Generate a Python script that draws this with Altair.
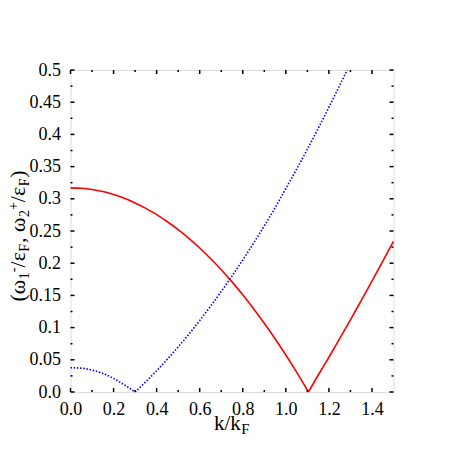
import altair as alt
import pandas as pd

# ---- data ----
red_left_k = [0.0, 0.05, 0.1, 0.15, 0.2, 0.25, 0.3, 0.35, 0.4, 0.45, 0.5, 0.55, 0.6, 0.65,
              0.7, 0.75, 0.8, 0.85, 0.9, 0.95, 1.0, 1.05, 1.105]
red_left_v = [0.317, 0.3163, 0.3144, 0.3112, 0.3066, 0.3008, 0.2936, 0.2852, 0.2755, 0.2644,
              0.2521, 0.2385, 0.2236, 0.2073, 0.1898, 0.1710, 0.1509, 0.1294, 0.1067, 0.0827,
              0.0574, 0.0308, 0.0]
red_right_k = [1.105, 1.15, 1.2, 1.25, 1.3, 1.35, 1.4, 1.45, 1.5]
red_right_v = [0.0, 0.026, 0.054, 0.083, 0.112, 0.142, 0.172, 0.203, 0.234]

blue_left_k = [0.0, 0.05, 0.1, 0.15, 0.2, 0.25, 0.3]
blue_left_v = [0.0377, 0.037, 0.034, 0.029, 0.021, 0.011, 0.0]
blue_right_k = [0.3, 0.35, 0.4, 0.45, 0.5, 0.55, 0.6, 0.65, 0.7, 0.75, 0.8, 0.85, 0.9, 0.95,
                1.0, 1.05, 1.1, 1.15, 1.2, 1.25, 1.285]
blue_right_v = [0.0, 0.016, 0.033, 0.051, 0.070, 0.090, 0.111, 0.133, 0.156, 0.180, 0.205,
                0.231, 0.258, 0.286, 0.316, 0.346, 0.377, 0.409, 0.442, 0.476, 0.5]

x_major = [0.0, 0.2, 0.4, 0.6, 0.8, 1.0, 1.2, 1.4]
x_minor = [0.1, 0.3, 0.5, 0.7, 0.9, 1.1, 1.3]
y_major = [0.0, 0.05, 0.1, 0.15, 0.2, 0.25, 0.3, 0.35, 0.4, 0.45, 0.5]
y_minor = [0.025, 0.075, 0.125, 0.175, 0.225, 0.275, 0.325, 0.375, 0.425, 0.475]

# ---- layout ----
W, H = 323, 322
FONT = "Liberation Serif"
xs = alt.Scale(domain=[0, 1.5], nice=False, zero=False)
ys = alt.Scale(domain=[0, 0.5], nice=False, zero=False)

x_axis = alt.Axis(values=x_major, format=".1f", title=None, ticks=False, tickSize=0,
                  domain=False, grid=False, labelFont=FONT, labelFontSize=18,
                  labelColor="black", labelPadding=8, labelFlush=False, labelOverlap=False)
y_axis = alt.Axis(values=y_major, title=None, ticks=False, tickSize=0, domain=False,
                  grid=False, labelFont=FONT, labelFontSize=18, labelColor="black",
                  labelPadding=10, labelFlush=False, labelOverlap=False,
                  labelExpr="datum.value == 0 ? '0.0' : format(datum.value, '~g')")


def X(field="k"):
    return alt.X(f"{field}:Q", scale=xs, axis=x_axis)


def Y(field="v"):
    return alt.Y(f"{field}:Q", scale=ys, axis=y_axis)


def seg_df(name, ks, vs):
    return pd.DataFrame({"k": ks, "v": vs, "seg": name})


red = pd.concat([seg_df("a", red_left_k, red_left_v), seg_df("b", red_right_k, red_right_v)])
blue = pd.concat([seg_df("a", blue_left_k, blue_left_v), seg_df("b", blue_right_k, blue_right_v)])

red_line = alt.Chart(red).mark_line(color="#ff0000", strokeWidth=1.6, interpolate="monotone").encode(
    x=X(), y=Y(), detail="seg:N")
blue_line = alt.Chart(blue).mark_line(color="#0000ff", strokeWidth=1.6, strokeDash=[1.5, 1.7],
                                      interpolate="monotone").encode(
    x=X(), y=Y(), detail="seg:N")


def xticks(vals, length):
    d = pd.DataFrame({"k": vals})
    bottom = alt.Chart(d).mark_rule(color="black", strokeWidth=1.5).encode(
        x=X(), y=alt.value(H), y2=alt.value(H - length))
    top = alt.Chart(d).mark_rule(color="black", strokeWidth=1.5).encode(
        x=X(), y=alt.value(0), y2=alt.value(length))
    return [bottom, top]


def yticks(vals, length):
    d = pd.DataFrame({"v": vals})
    left = alt.Chart(d).mark_rule(color="black", strokeWidth=1.5).encode(
        y=Y(), x=alt.value(0), x2=alt.value(length))
    right = alt.Chart(d).mark_rule(color="black", strokeWidth=1.5).encode(
        y=Y(), x=alt.value(W), x2=alt.value(W - length))
    return [left, right]


tick_layers = xticks(x_major, 4) + xticks(x_minor, 2) + yticks(y_major, 4) + yticks(y_minor, 2)

one = pd.DataFrame({"d": [0]})


def txt(s, x, y, size, angle=0):
    return alt.Chart(one).mark_text(text=s, font=FONT, fontSize=size, color="black",
                                    align="left", baseline="alphabetic", angle=angle).encode(
        x=alt.value(x), y=alt.value(y))


# x title: k/k_F
M, S = 21, 15
kk_w = 1.278 * M
f_w = 0.611 * S
x0 = W / 2 - (kk_w + f_w) / 2
x_title = [txt("k/k", x0, 360, M), txt("F", x0 + kk_w + 0.5, 364, S)]

# y title: (ω1^-/εF, ω2^+/εF), rotated
YM, YS = 22, 14
pieces = [("(ω", 1.019 * YM, YM, 0), ("1", 0.5 * YS, YS, 4), ("-", 0.333 * YS, YS, -7),
          ("/ε", 0.718 * YM, YM, 0), ("F", 0.611 * YS, YS, 4), (", ω", 1.186 * YM, YM, 0),
          ("2", 0.5 * YS, YS, 4), ("+", 0.564 * YS, YS, -7), ("/ε", 0.718 * YM, YM, 0),
          ("F", 0.611 * YS, YS, 4), (")", 0.333 * YM, YM, 0)]
total = sum(p[1] for p in pieces)
ybase_x = -46
cur = 166 + total / 2
y_title = []
for s, w, size, shift in pieces:
    y_title.append(txt(s, ybase_x + shift, cur, size, angle=270))
    cur -= w

chart = alt.layer(red_line, blue_line, *tick_layers, *x_title, *y_title).properties(
    width=W, height=H,
    autosize=alt.AutoSizeParams(type="none"),
    padding={"left": 62.5, "top": 62, "right": 30, "bottom": 50},
).configure_view(stroke="black", strokeWidth=1.6).configure(background="white")

chart.save("out.html", embed_options={"renderer": "svg", "actions": False})
